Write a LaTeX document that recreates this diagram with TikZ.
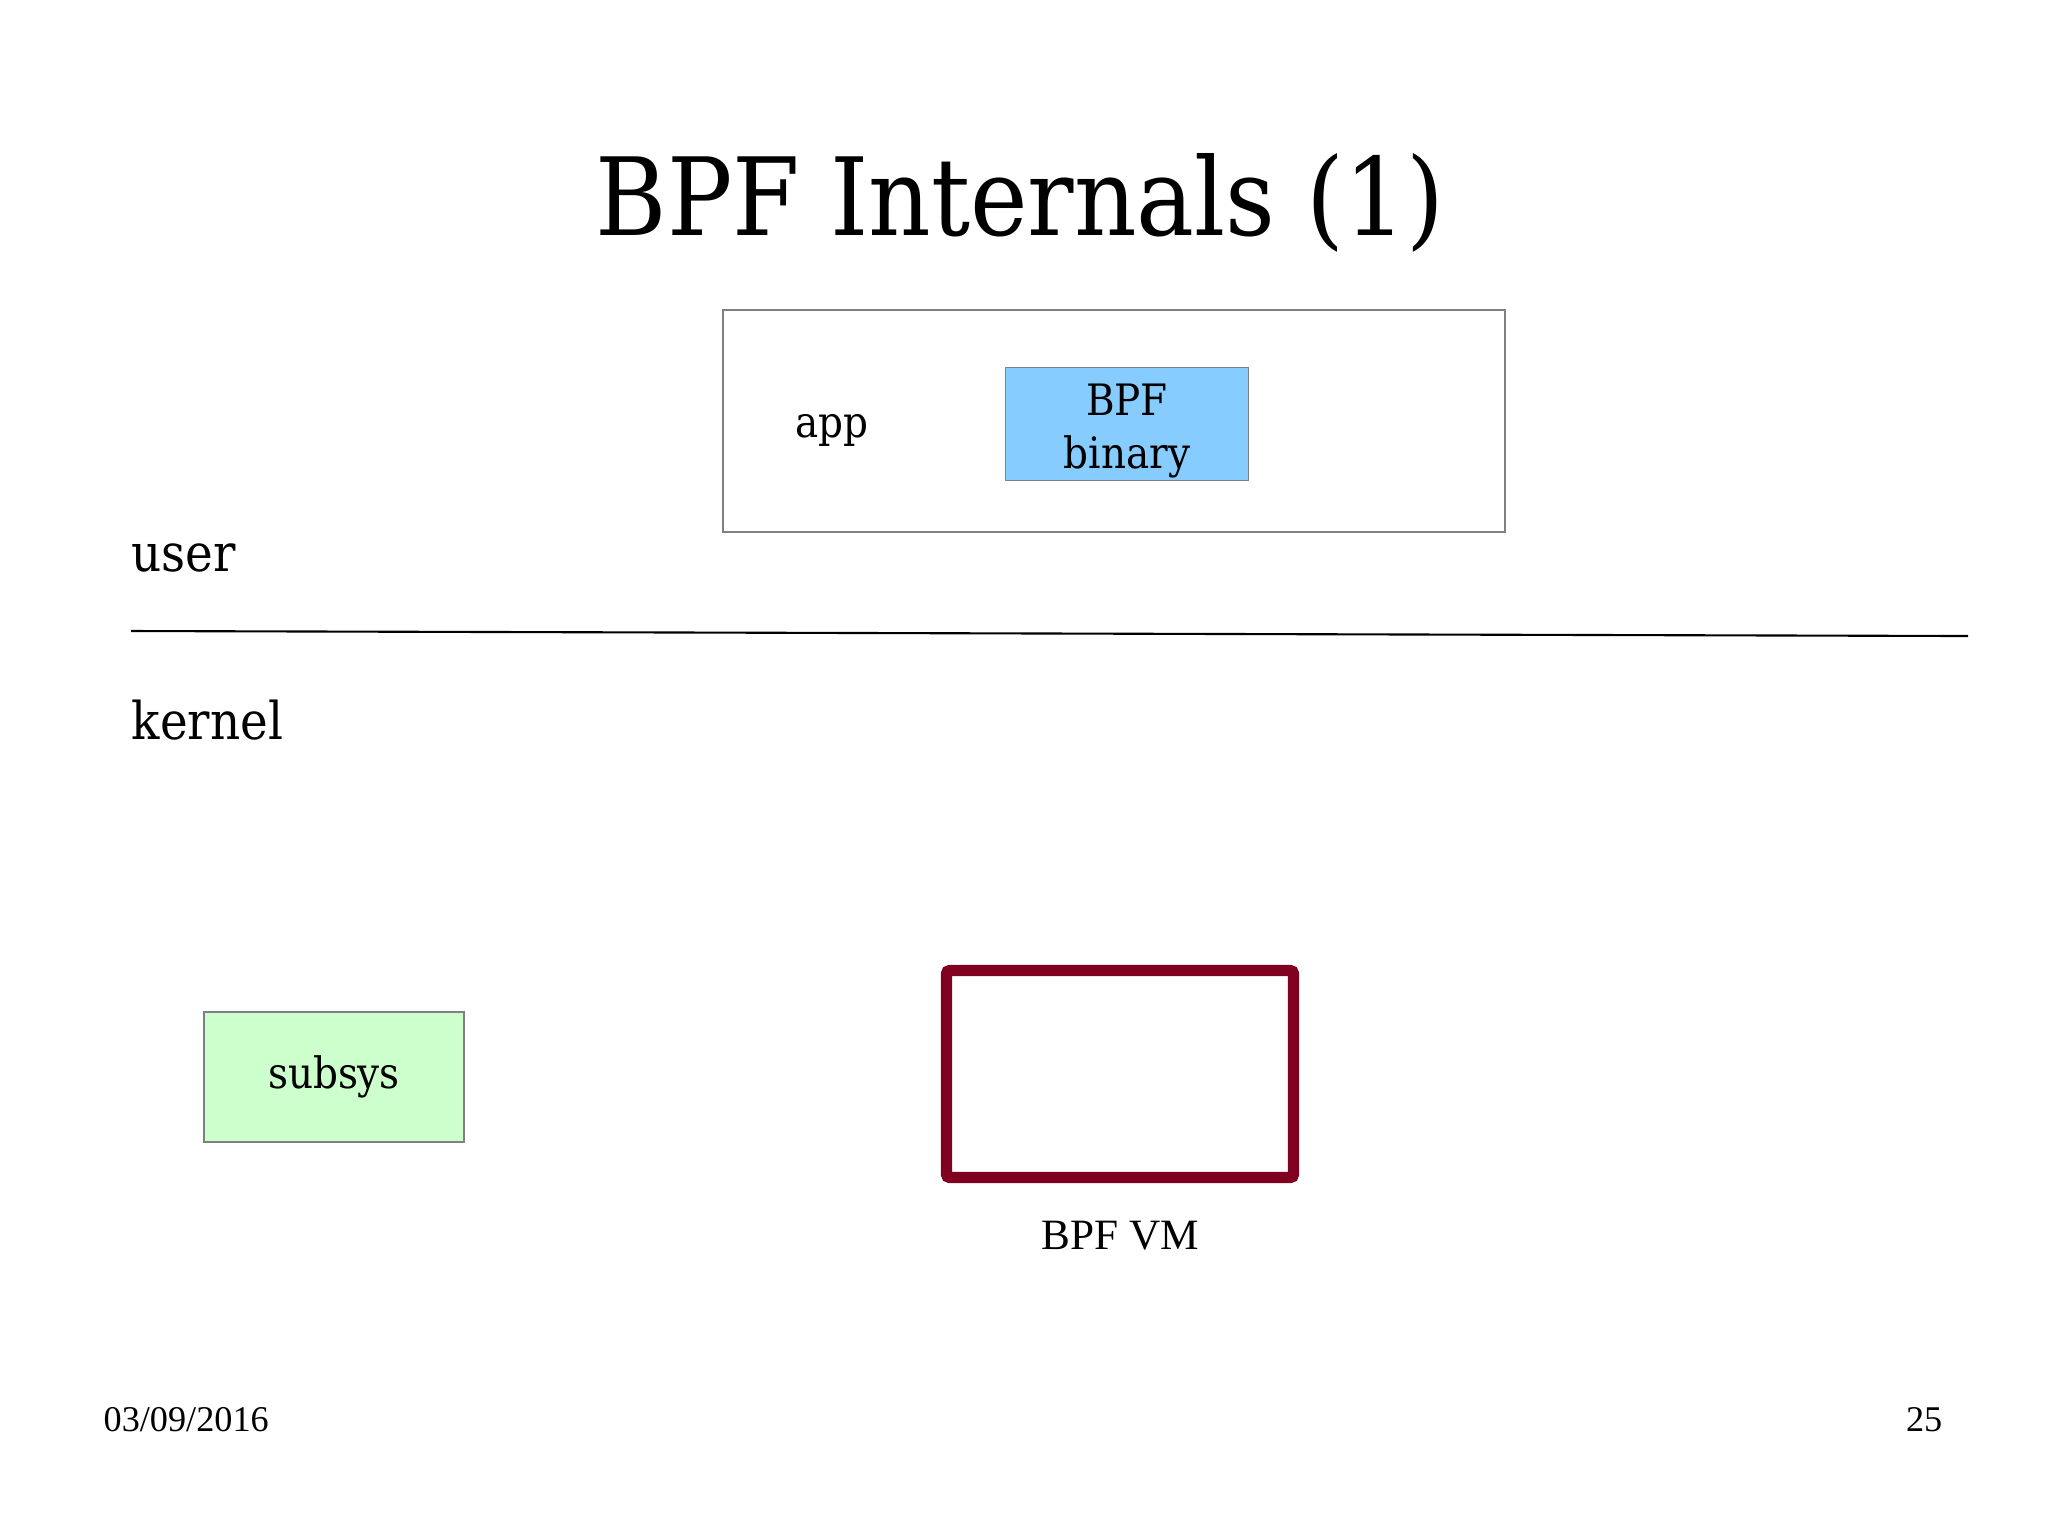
\documentclass[tikz,border=0pt]{standalone}
\usepackage{fontspec}
\setmainfont{DejaVu Serif Condensed}
\newfontfamily\footfont{Liberation Serif}
\usetikzlibrary{positioning}

\definecolor{binblue}{RGB}{135,204,255}
\definecolor{subgreen}{RGB}{204,255,204}
\definecolor{vmred}{RGB}{128,0,32}
\definecolor{edgegray}{RGB}{128,128,128}

\newcommand{\titlesize}{\fontsize{30.7}{37}\selectfont}
\newcommand{\layersize}{\fontsize{14.8}{18}\selectfont}
\newcommand{\boxsize}{\fontsize{12.3}{15.3}\selectfont}
\newcommand{\footsize}{\fontsize{10.3}{12}\selectfont}

\tikzset{
  graybox/.style={draw=edgegray, line width=0.45pt, inner sep=0pt, font=\boxsize},
  vmbox/.style={draw=vmred, line width=3.2pt, rounded corners=1pt, fill=white,
    minimum width=3.47cm, minimum height=2.07cm},
  lbl/.style={inner sep=0pt, anchor=base west}
}

\begin{document}
\begin{tikzpicture}[x=0.01cm, y=-0.01cm]
  \useasboundingbox (0,0) rectangle (2048,1535);
  % title
  \node[inner sep=0pt, anchor=base] (title) at (1020,235) {\titlesize BPF Internals (1)};
  % user space
  \node[graybox, minimum width=7.81cm, minimum height=2.22cm] (appbox) at (1114,421) {};
  \node[lbl, font=\boxsize] (app) at (795,437) {app};
  \node[graybox, fill=binblue, minimum width=2.43cm, minimum height=1.13cm] (bin) at (1127,424) {};
  \node[inner sep=0pt, align=center, font=\boxsize] (binlbl) at ([yshift=-0.07cm]bin.center) {BPF\\binary};
  \node[lbl, font=\layersize] (user) at (131,571) {user};
  % user / kernel border
  \coordinate (sepl) at (131,631);
  \coordinate (sepr) at (1968,636);
  \draw[line width=0.6pt] (sepl) -- (sepr);
  \node[lbl, font=\layersize] (kernel) at (131,739) {kernel};
  % kernel side
  \node[graybox, fill=subgreen, minimum width=2.6cm, minimum height=1.3cm] (subsys) at (334,1077) {subsys};
  \node[vmbox] (vm) at (1120,1074) {};
  \node[inner sep=0pt, anchor=base, font=\footfont\boxsize] (vmlabel) at (1120,1249) {BPF VM};
  % footer
  \node[lbl, font=\footfont\footsize] (date) at (103,1431) {03/09/2016};
  \node[inner sep=0pt, anchor=base east, font=\footfont\footsize] (page) at (1943,1431) {25};
\end{tikzpicture}
\end{document}
